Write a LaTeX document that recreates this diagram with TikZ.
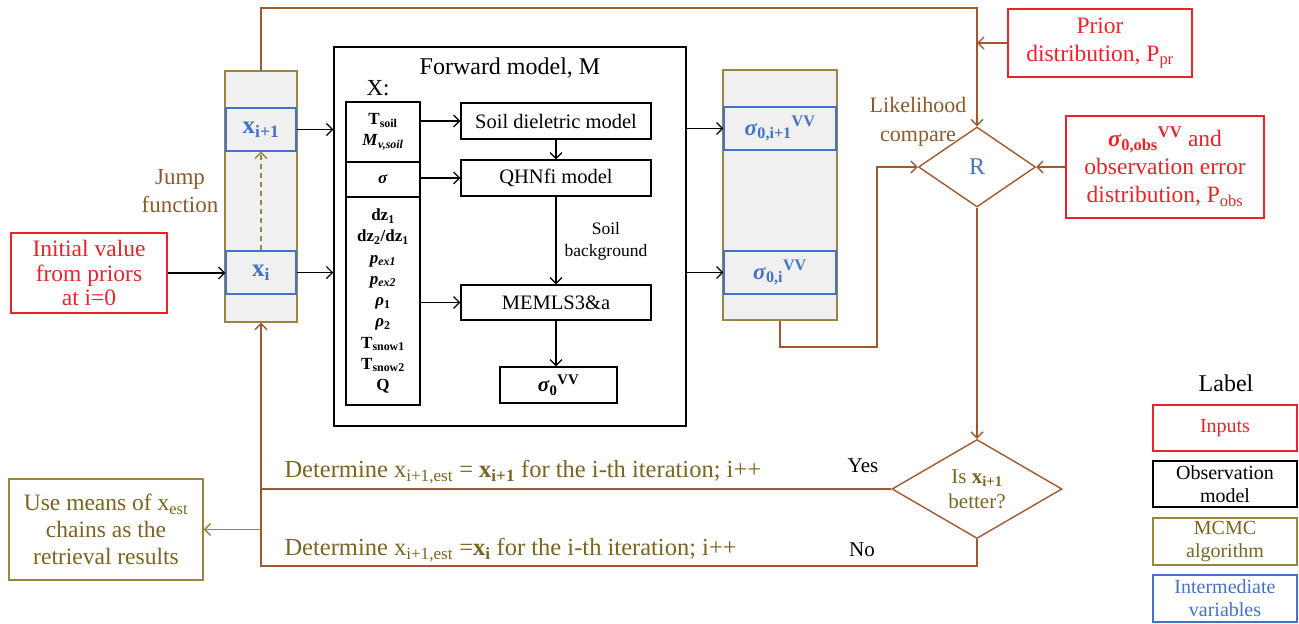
\documentclass[tikz,border=0pt]{standalone}
\usepackage{fontspec}
\setmainfont{Liberation Serif}
\usetikzlibrary{shapes.geometric,arrows.meta}
\definecolor{cred}{HTML}{E8242B}
\definecolor{cblue}{HTML}{4472C4}
\definecolor{colive}{HTML}{9A8540}
\definecolor{colivetxt}{HTML}{7A6420}
\definecolor{cbrown}{HTML}{A0582E}
\definecolor{cbrowntxt}{HTML}{8B5A2B}
\definecolor{cgray}{HTML}{F0F0F0}
\newcommand{\fs}[2]{\fontsize{#1}{#2}\selectfont}
\begin{document}
\begin{tikzpicture}[x=1pt,y=-1pt,
  >={Straight Barb[length=6pt,width=12pt]},
  box/.style={draw, rectangle, inner sep=0pt, align=center, line width=1.2pt},
  redbox/.style={box, draw=cred, text=cred},
  mcmc/.style={box, draw=colive, fill=cgray, line width=1.4pt},
  var/.style={box, draw=cblue, fill=cgray, text=cblue},
  blk/.style={box, draw=black, line width=1.5pt},
  conn/.style={draw=cbrown, line width=1.4pt},
  bconn/.style={draw=black, line width=1.2pt, ->}
]
\useasboundingbox (0,0) rectangle (1299,624);

% left MCMC column
\node[mcmc, minimum width=72pt, minimum height=251pt] (lcol) at (261,196.5) {};
\node[var, minimum width=70pt, minimum height=43pt, font=\fs{25}{26}\bfseries] (xi1) at (261,129.5) {x\textsubscript{i+1}};
\node[var, minimum width=70pt, minimum height=43pt, font=\fs{25}{26}\bfseries] (xi) at (261,272.5) {x\textsubscript{i}};
\node[redbox, minimum width=156pt, minimum height=80pt, font=\fs{23.5}{24.5}] (init) at (89,273) {Initial value\\from priors\\at i=0};
\node[text=cbrowntxt, align=center, font=\fs{23}{28}] (jump) at (180,191) {Jump\\function};

% forward model
\node[blk, minimum width=352pt, minimum height=379pt] (fwd) at (510,236.5) {};
\node[font=\fs{24}{25}] (fwdt) at (510,68) {Forward model, M};
\node[font=\fs{23}{25}] (xlab) at (378,88) {X:};
\node[blk, minimum width=74pt, minimum height=60pt, font=\fs{17}{21}\bfseries] (p1) at (383,132) {T\textsubscript{soil}\\\textit{M}\textsubscript{\textit{v,soil}}};
\node[blk, minimum width=74pt, minimum height=35pt, font=\fs{17}{20}\bfseries] (p2) at (383,179.5) {\textit{σ}};
\node[blk, minimum width=74pt, minimum height=208pt, font=\fs{17}{21.25}\bfseries] (p3) at (383,301) {dz\textsubscript{1}\\dz\textsubscript{2}/dz\textsubscript{1}\\\textit{p}\textsubscript{\textit{ex1}}\\\textit{p}\textsubscript{\textit{ex2}}\\\textit{ρ}\textsubscript{1}\\\textit{ρ}\textsubscript{2}\\T\textsubscript{snow1}\\T\textsubscript{snow2}\\Q};
\node[box, minimum width=190pt, minimum height=36pt, font=\fs{20.5}{24}] (soil) at (556,121) {Soil dieletric model};
\node[box, minimum width=190pt, minimum height=36pt, font=\fs{20.5}{24}] (qhn) at (556,178) {QHNfi model};
\node[box, minimum width=190pt, minimum height=35pt, font=\fs{20.5}{24}] (memls) at (556,302.5) {MEMLS3\&a};
\node[box, minimum width=117pt, minimum height=36pt, font=\fs{21}{24}] (sig0) at (558.5,385) {\textbf{\textit{σ}\textsubscript{0}\textsuperscript{VV}}};
\node[font=\fs{17.5}{22}, align=center] (soilbg) at (606,241) {Soil\\background};

% right column
\node[mcmc, minimum width=114pt, minimum height=250pt] (rcol) at (780,195) {};
\node[var, minimum width=112pt, minimum height=43pt, font=\fs{23}{24}\bfseries] (s1) at (780,128.5) {\textit{σ}\textsubscript{0,i+1}\textsuperscript{VV}};
\node[var, minimum width=112pt, minimum height=43pt, font=\fs{23}{24}\bfseries] (s0) at (780,272.5) {\textit{σ}\textsubscript{0,i}\textsuperscript{VV}};

% decision R
\node[diamond, draw=cbrown, line width=1.4pt, minimum width=117pt, minimum height=80pt, inner sep=0pt, text=cblue, font=\fs{24}{26}] (R) at (977,167) {R};
\node[text=cbrowntxt, font=\fs{22}{29}, align=center] (lik) at (918,122) {Likelihood\\compare};
\node[redbox, minimum width=184pt, minimum height=68pt, font=\fs{23.5}{28}] (prior) at (1100,43) {Prior\\distribution, P\textsubscript{pr}};
\node[redbox, minimum width=198pt, minimum height=102pt, font=\fs{23.5}{28}] (obs) at (1165,167) {\textbf{\textit{σ}\textsubscript{0,obs}\textsuperscript{VV}} and\\observation error\\distribution, P\textsubscript{obs}};

% decision better
\node[diamond, draw=cbrown, line width=1.4pt, minimum width=170pt, minimum height=99pt, inner sep=0pt, text=colivetxt, align=center, font=\fs{21}{25}] (better) at (977,489) {Is \textbf{x\textsubscript{i+1}}\\better?};
\node[box, draw=colive, text=colivetxt, minimum width=194pt, minimum height=101pt, font=\fs{23.5}{27}] (use) at (106,529.5) {Use means of x\textsubscript{est}\\chains as the\\retrieval results};
\node[anchor=west, text=colivetxt, font=\fs{24.5}{26}] (det1) at (281,472) {Determine x\textsubscript{i+1,est} = \textbf{x\textsubscript{i+1}} for the i-th iteration; i++};
\node[anchor=west, text=colivetxt, font=\fs{24.5}{26}] (det2) at (281,550) {Determine x\textsubscript{i+1,est} =\textbf{x\textsubscript{i}} for the i-th iteration; i++};
\node[font=\fs{21}{24}] (yes) at (863,466) {Yes};
\node[font=\fs{21}{24}] (no) at (862,550) {No};

% legend
\node[font=\fs{24}{26}] (lab) at (1226,383) {Label};
\node[box, draw=cred, text=cred, minimum width=144pt, minimum height=46pt, font=\fs{20}{23}] (lg1) at (1225,428) {Inputs};
\node[box, draw=black, minimum width=144pt, minimum height=46pt, font=\fs{20}{23}] (lg2) at (1225,484) {Observation\\model};
\node[box, draw=colive, text=colivetxt, minimum width=144pt, minimum height=47pt, font=\fs{20}{23}] (lg3) at (1225,541.5) {MCMC\\algorithm};
\node[box, draw=cblue, text=cblue, minimum width=144pt, minimum height=47pt, font=\fs{20}{23}] (lg4) at (1225,598.5) {Intermediate\\variables};

% black connectors
\draw[bconn] (init.east) -- (init.east -| xi.west);
\draw[bconn] (xi1.east) -- (xi1.east -| fwd.west);
\draw[bconn] (xi.east) -- (xi.east -| fwd.west);
\draw[bconn] (fwd.east |- s1.west) -- (s1.west);
\draw[bconn] (fwd.east |- s0.west) -- (s0.west);
\draw[bconn] (p1.east |- soil.west) -- (soil.west);
\draw[bconn] (p2.east |- qhn.west) -- (qhn.west);
\draw[bconn] (p3.east |- memls.west) -- (memls.west);
\draw[bconn] (soil.south) -- (qhn.north);
\draw[bconn] (qhn.south) -- (memls.north);
\draw[bconn] (memls.south) -- (memls.south |- sig0.north);
\draw[->, dash pattern=on 5pt off 4pt, draw=colive, line width=1.4pt] (xi.north) -- (xi1.south);

% brown connectors
\coordinate (topl) at (261,8);
\draw[conn,->] (lcol.north) -- (topl) -| (R.north);
\draw[conn,->] (prior.west) -- (prior.west -| R.north);
\draw[conn,->] (obs.west) -- (R.east);
\coordinate (c1) at (877,347);
\draw[conn,->] (rcol.south) |- (c1) |- (R.west);
\draw[conn,->] (R.south) -- (better.north);
\draw[conn] (better.west) -- (better.west -| lcol.south);
\coordinate (nob) at (261,566);
\draw[conn,->] (better.south) |- (nob) -- (lcol.south);
\draw[->, draw=colive, line width=1.4pt] (use.east -| lcol.south) -- (use.east);
\end{tikzpicture}
\end{document}
